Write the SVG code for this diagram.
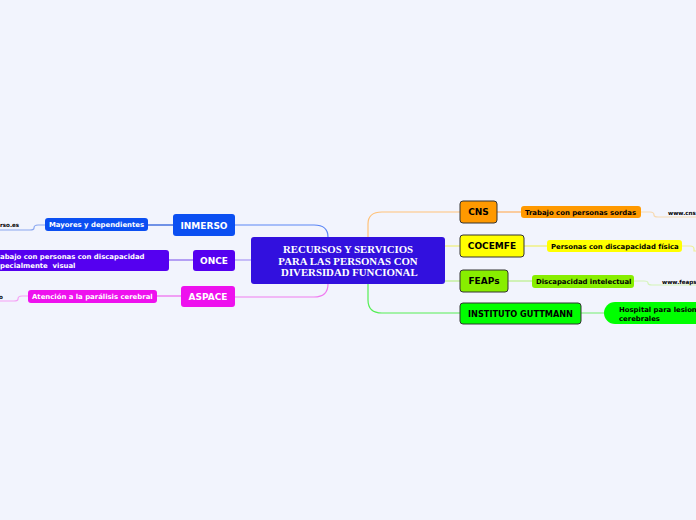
<svg xmlns="http://www.w3.org/2000/svg" width="696" height="520" viewBox="0 0 696 520">
<style>
.t{font-family:"DejaVu Sans",Verdana,sans-serif;font-weight:bold;white-space:pre}
.m{font-size:9px;fill:#fff;text-anchor:middle}
.mk{font-size:9px;fill:#000;text-anchor:middle}
.s{font-size:6.9px;fill:#fff}
.sk{font-size:6.9px;fill:#000}
.u{font-size:5.6px;fill:#000}
.c{font-family:"Liberation Serif","Times New Roman",serif;font-weight:bold;font-size:10.8px;fill:#fff;text-anchor:middle;white-space:pre}
.ln{fill:none;stroke-width:1.2}
.bd{stroke:#333;stroke-width:1}
</style>
<rect width="696" height="520" fill="#f2f4fd"/>
<g id="connectors">
<path class="ln" d="M328,237 Q328,225 314,225 L235,225" stroke="#5b86f5"/>
<path class="ln" d="M251,260 L235,260" stroke="#a996f5"/>
<path class="ln" d="M328,284 Q328,297 314,297 L235,297" stroke="#f07cf0"/>
<path class="ln" d="M368,237 L368,224 Q368,212 382,212 L460,212" stroke="#ffc27a"/>
<path class="ln" d="M445,246 L460,246" stroke="#eeee77"/>
<path class="ln" d="M445,281 L460,281" stroke="#b9ef88"/>
<path class="ln" d="M368,284 L368,300 Q368,313 382,313 L460,313" stroke="#55ee55"/>
<path class="ln" d="M173,225 L148,225" stroke="#1a4fd8"/>
<path class="ln" d="M193,260 L169,260" stroke="#8a66ee"/>
<path class="ln" d="M181,296 L157,296" stroke="#ee66ee"/>
<path class="ln" d="M45,225 L38,225 Q34,225 34,228 Q34,230 30,230 L0,230" stroke="#89a6f0"/>
<path class="ln" d="M28,296 L22,296 Q18,296 18,299 Q18,301 14,301 L0,301" stroke="#f5a0f5"/>
<path class="ln" d="M497,212 L521,212" stroke="#ffb060"/>
<path class="ln" d="M524,246 L547,246" stroke="#eeee66"/>
<path class="ln" d="M508,281 L532,281" stroke="#b9ef88"/>
<path class="ln" d="M581,313 L604,313" stroke="#88ee88"/>
<path class="ln" d="M641,212 L650,212 Q654,212 654,215 Q654,217 658,217 L696,217" stroke="#f7d9b0"/>
<path class="ln" d="M682,246 L690,246 Q694,246 694,249 L694,251 L696,251" stroke="#eeee99"/>
<path class="ln" d="M634,281 L644,281 Q648,281 648,283 Q648,285 652,285 L696,285" stroke="#d4f4b8"/>
</g>
<g id="central">
<rect x="251" y="237" width="194" height="47" rx="3" fill="#3210de"/>
<text class="c" x="348" y="253">RECURSOS Y SERVICIOS</text>
<text class="c" x="348" y="264.5">PARA LAS PERSONAS CON</text>
<text class="c" x="348" y="276"> DIVERSIDAD FUNCIONAL</text>
</g>
<g id="inmerso">
<rect x="173" y="214" width="62" height="22" rx="3" fill="#0b4ff2"/>
<text class="t m" x="204" y="228.5">INMERSO</text>
</g>
<g id="inmerso-sub">
<rect x="45" y="218" width="103" height="13" rx="3" fill="#0b4ff2"/>
<text class="t s" x="49" y="227.3">Mayores y dependientes</text>
</g>
<g id="inmerso-web">
<text class="t u" x="0" y="227">rso.es</text>
</g>
<g id="once">
<rect x="193" y="250" width="42" height="21" rx="3" fill="#5500f0"/>
<text class="t m" x="214" y="263.8">ONCE</text>
</g>
<g id="once-sub">
<rect x="-5" y="250" width="174" height="21" rx="3" fill="#5500f0"/>
<text class="t s" x="0" y="259">abajo con personas con discapacidad</text>
<text class="t s" x="0" y="268">pecialmente  visual</text>
</g>
<g id="aspace">
<rect x="181" y="286" width="54" height="21" rx="3" fill="#ee11ee"/>
<text class="t m" x="208" y="300">ASPACE</text>
</g>
<g id="aspace-sub">
<rect x="28" y="290" width="129" height="13" rx="3" fill="#ee11ee"/>
<text class="t s" x="32" y="299.3">Atención a la parálisis cerebral</text>
</g>
<g id="aspace-web">
<text class="t u" x="-1" y="298.5">o</text>
</g>
<g id="cns">
<rect x="460" y="201" width="37" height="22" rx="3" fill="#ff9900" class="bd"/>
<text class="t mk" x="478.5" y="215.3">CNS</text>
</g>
<g id="cns-sub">
<rect x="521" y="206" width="120" height="12" rx="3" fill="#ff9900"/>
<text class="t sk" x="525" y="214.5">Trabajo con personas sordas</text>
</g>
<g id="cns-web">
<text class="t u" x="668" y="214.5">www.cns</text>
</g>
<g id="cocemfe">
<rect x="460" y="235" width="64" height="22" rx="3" fill="#ffff00" class="bd"/>
<text class="t mk" x="492" y="249.3">COCEMFE</text>
</g>
<g id="cocemfe-sub">
<rect x="547" y="240" width="135" height="12" rx="3" fill="#ffff00"/>
<text class="t sk" x="551" y="248.5">Personas con discapacidad física</text>
</g>
<g id="feaps">
<rect x="460" y="270" width="48" height="22" rx="3" fill="#88ee00" class="bd"/>
<text class="t mk" x="484" y="284.3">FEAPs</text>
</g>
<g id="feaps-sub">
<rect x="532" y="275" width="102" height="13" rx="3" fill="#88ee00"/>
<text class="t sk" x="536" y="284">Discapacidad intelectual</text>
</g>
<g id="feaps-web">
<text class="t u" x="662" y="283.5">www.feaps</text>
</g>
<g id="guttmann">
<rect x="460" y="303" width="121" height="21" rx="3" fill="#00ff00" class="bd"/>
<text class="t mk" x="520.5" y="316.5" style="font-size:8.2px">INSTITUTO GUTTMANN</text>
</g>
<g id="guttmann-sub">
<rect x="604" y="302" width="110" height="22" rx="11" fill="#00ff00"/>
<text class="t sk" x="619" y="312">Hospital para lesiones</text>
<text class="t sk" x="619" y="320.5">cerebrales</text>
</g>
</svg>
